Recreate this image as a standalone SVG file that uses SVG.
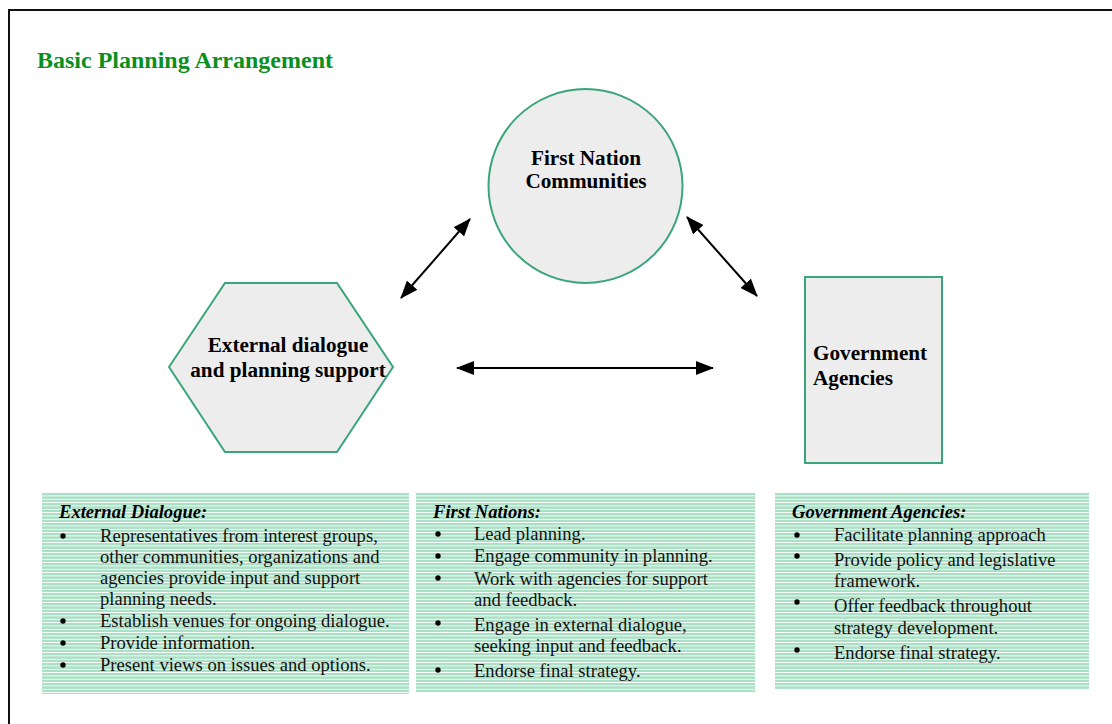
<svg xmlns="http://www.w3.org/2000/svg" width="1112" height="724" viewBox="0 0 1112 724">
  <style>
    .title { font-family: "Liberation Serif", "Times New Roman", serif; font-weight: bold; font-size: 24px; fill: #0a8f1e; }
    .node-shape { fill: #ededed; stroke: #3aa57a; stroke-width: 2; }
    .node-label { font-family: "Liberation Serif", "Times New Roman", serif; font-weight: bold; font-size: 21.2px; fill: #000; }
    .panel { fill: url(#stripes); }
    .panel-head { font-family: "Liberation Serif", "Times New Roman", serif; font-weight: bold; font-style: italic; font-size: 18.6px; fill: #000; }
    .panel-text { font-family: "Liberation Serif", "Times New Roman", serif; font-size: 18.6px; fill: #111; }
    .bullet { fill: #000; }
    .link { stroke: #000; stroke-width: 2; fill: none; marker-start: url(#head); marker-end: url(#head); }
  </style>
  <defs>
    <pattern id="stripes" patternUnits="userSpaceOnUse" x="0" y="493" width="20" height="3.333">
      <rect x="0" y="0" width="20" height="3.333" fill="#ffffff"/>
      <rect x="0" y="0" width="20" height="2.4" fill="#abe0c6" shape-rendering="crispEdges"/>
    </pattern>
    <marker id="head" viewBox="0 0 18 14" refX="17" refY="7" markerWidth="18" markerHeight="14" markerUnits="userSpaceOnUse" orient="auto-start-reverse">
      <path d="M0,0 L18,7 L0,14 Z" fill="#000"/>
    </marker>
  </defs>

  <rect width="1112" height="724" fill="#fff"/>
  <!-- outer frame, runs past the right and bottom edges -->
  <rect x="9" y="10" width="1200" height="800" fill="none" stroke="#111" stroke-width="2"/>

  <text class="title" x="37" y="68">Basic Planning Arrangement</text>

  <g id="connectors">
    <line class="link" x1="401" y1="298" x2="470" y2="219"/>
    <line class="link" x1="687" y1="217" x2="757" y2="296"/>
    <line class="link" x1="457" y1="368" x2="713" y2="368"/>
  </g>

  <g id="node-first-nation">
    <circle class="node-shape" cx="585.5" cy="186" r="97"/>
    <text class="node-label" x="586" y="165" text-anchor="middle">First Nation</text>
    <text class="node-label" x="586" y="188" text-anchor="middle">Communities</text>
  </g>

  <g id="node-external">
    <polygon class="node-shape" points="169,367 225,283 337,283 393,367 337,452 225,452"/>
    <text class="node-label" x="288" y="352" text-anchor="middle">External dialogue</text>
    <text class="node-label" x="288" y="377" text-anchor="middle">and planning support</text>
  </g>

  <g id="node-government">
    <rect class="node-shape" x="805" y="277" width="137" height="186"/>
    <text class="node-label" x="813" y="360">Government</text>
    <text class="node-label" x="813" y="385">Agencies</text>
  </g>

  <g id="panel-external">
    <rect class="panel" x="42" y="493" width="367" height="201"/>
    <text class="panel-head" x="59" y="518">External Dialogue:</text>
    <circle class="bullet" cx="63" cy="536" r="2.7"/>
    <text class="panel-text" x="100" y="542">Representatives from interest groups,</text>
    <text class="panel-text" x="100" y="563">other communities, organizations and</text>
    <text class="panel-text" x="100" y="584">agencies provide input and support</text>
    <text class="panel-text" x="100" y="605">planning needs.</text>
    <circle class="bullet" cx="63" cy="621" r="2.7"/>
    <text class="panel-text" x="100" y="627">Establish venues for ongoing dialogue.</text>
    <circle class="bullet" cx="63" cy="643" r="2.7"/>
    <text class="panel-text" x="100" y="649">Provide information.</text>
    <circle class="bullet" cx="63" cy="665" r="2.7"/>
    <text class="panel-text" x="100" y="671">Present views on issues and options.</text>
  </g>

  <g id="panel-first-nations">
    <rect class="panel" x="416" y="493" width="339" height="199"/>
    <text class="panel-head" x="433" y="518">First Nations:</text>
    <circle class="bullet" cx="438" cy="534" r="2.7"/>
    <text class="panel-text" x="474" y="540">Lead planning.</text>
    <circle class="bullet" cx="438" cy="556" r="2.7"/>
    <text class="panel-text" x="474" y="562">Engage community in planning.</text>
    <circle class="bullet" cx="438" cy="578" r="2.7"/>
    <text class="panel-text" x="474" y="585">Work with agencies for support</text>
    <text class="panel-text" x="474" y="606">and feedback.</text>
    <circle class="bullet" cx="438" cy="623" r="2.7"/>
    <text class="panel-text" x="474" y="631">Engage in external dialogue,</text>
    <text class="panel-text" x="474" y="652">seeking input and feedback.</text>
    <circle class="bullet" cx="438" cy="670" r="2.7"/>
    <text class="panel-text" x="474" y="677">Endorse final strategy.</text>
  </g>

  <g id="panel-government">
    <rect class="panel" x="775" y="493" width="314" height="196"/>
    <text class="panel-head" x="792" y="518">Government Agencies:</text>
    <circle class="bullet" cx="797" cy="535" r="2.7"/>
    <text class="panel-text" x="834" y="541">Facilitate planning approach</text>
    <circle class="bullet" cx="797" cy="556" r="2.7"/>
    <text class="panel-text" x="834" y="566">Provide policy and legislative</text>
    <text class="panel-text" x="834" y="587">framework.</text>
    <circle class="bullet" cx="797" cy="602" r="2.7"/>
    <text class="panel-text" x="834" y="612">Offer feedback throughout</text>
    <text class="panel-text" x="834" y="634">strategy development.</text>
    <circle class="bullet" cx="797" cy="650" r="2.7"/>
    <text class="panel-text" x="834" y="659">Endorse final strategy.</text>
  </g>
</svg>
